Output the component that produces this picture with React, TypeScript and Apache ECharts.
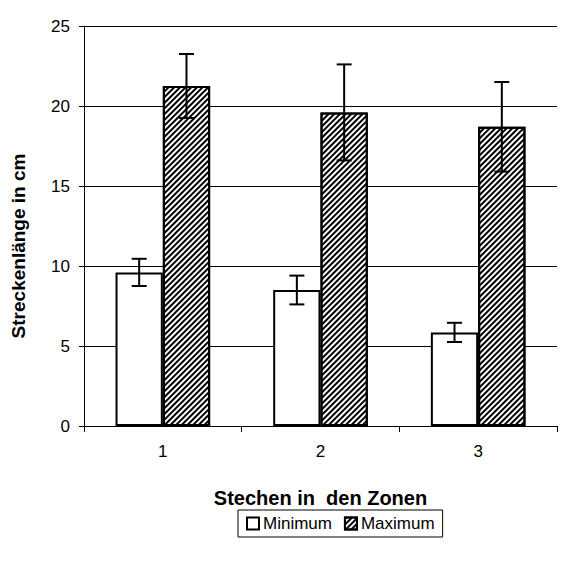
import React, { useEffect, useRef } from "react";
import * as echarts from "echarts";

const categories = ["1", "2", "3"];
const minimum = [9.6, 8.5, 5.85];
const maximum = [21.25, 19.6, 18.7];
const minimumError = [0.85, 0.9, 0.6];
const maximumError = [2.0, 3.0, 2.8];
const yTicks = { min: 0, max: 25, interval: 5 };
const xTitle = "Stechen in  den Zonen";
const yTitle = "Streckenlänge in cm";

const FONT = "'Liberation Sans', Arial, sans-serif";

function errorSeries(name: string, values: number[], errs: number[], offsetFrac: number) {
  return {
    type: "custom",
    name: name + " error",
    z: 10,
    silent: true,
    data: values.map((v, i) => [i, v - errs[i], v + errs[i]]),
    renderItem: (params: any, api: any) => {
      const idx = api.value(0);
      const lo = api.coord([idx, api.value(1)]);
      const hi = api.coord([idx, api.value(2)]);
      const bw = api.size([1, 0])[0];
      const x = lo[0] + bw * offsetFrac;
      const cap = 7.5;
      const style = { stroke: "#000", lineWidth: 2 };
      return {
        type: "group",
        children: [
          { type: "line", shape: { x1: x, y1: lo[1], x2: x, y2: hi[1] }, style },
          { type: "line", shape: { x1: x - cap, y1: lo[1], x2: x + cap, y2: lo[1] }, style },
          { type: "line", shape: { x1: x - cap, y1: hi[1], x2: x + cap, y2: hi[1] }, style },
        ],
      };
    },
  };
}

export default function App() {
  const ref = useRef<HTMLDivElement>(null);
  useEffect(() => {
    if (!ref.current) return;
    const chart = echarts.init(ref.current, undefined, { renderer: "svg" });
    const decal = {
      symbol: "rect",
      symbolSize: 1,
      color: "#000",
      dashArrayX: [1, 0],
      dashArrayY: [1.6, 1.4],
      rotation: -Math.PI / 4,
    };
    chart.setOption({
      animation: false,
      backgroundColor: "#fff",
      textStyle: { fontFamily: FONT },
      grid: { left: 84, right: 9, top: 26, bottom: 138, containLabel: false },
      graphic: [
        {
          type: "text",
          x: 18,
          y: 246,
          rotation: Math.PI / 2,
          style: {
            text: yTitle,
            fontFamily: FONT,
            fontSize: 19,
            fontWeight: "bold",
            fill: "#000",
            align: "center",
            verticalAlign: "middle",
          },
        },
      ],
      legend: {
        data: ["Minimum", "Maximum"],
        top: 510,
        left: 238,
        borderColor: "#000",
        borderWidth: 1,
        borderRadius: 0,
        padding: [5, 8, 5, 8],
        itemGap: 12,
        itemWidth: 12,
        itemHeight: 12,
        icon: "rect",
        textStyle: { fontFamily: FONT, fontSize: 17, color: "#000", padding: [0, 0, 0, -1] },
      },
      xAxis: {
        type: "category",
        data: categories,
        name: xTitle,
        nameLocation: "middle",
        nameGap: 62,
        nameTextStyle: { fontFamily: FONT, fontSize: 20, fontWeight: "bold", color: "#000" },
        axisLine: { lineStyle: { color: "#000", width: 1 } },
        axisTick: { show: true, alignWithLabel: false, length: 6, lineStyle: { color: "#000" } },
        axisLabel: { fontFamily: FONT, fontSize: 17, color: "#000", margin: 17 },
      },
      yAxis: {
        type: "value",
        min: yTicks.min,
        max: yTicks.max,
        interval: yTicks.interval,
        axisLine: { show: true, lineStyle: { color: "#000", width: 1 } },
        axisTick: { show: true, length: 5, lineStyle: { color: "#000" } },
        axisLabel: { fontFamily: FONT, fontSize: 17, color: "#000", margin: 14 },
        splitLine: { show: true, lineStyle: { color: "#000", width: 1 } },
      },
      series: [
        {
          type: "bar",
          name: "Minimum",
          data: minimum,
          barWidth: "30%",
          barGap: "0%",
          itemStyle: { color: "#fff", borderColor: "#000", borderWidth: 2 },
        },
        {
          type: "bar",
          name: "Maximum",
          data: maximum,
          barWidth: "30%",
          barGap: "0%",
          itemStyle: { color: "#fff", borderColor: "#000", borderWidth: 2, decal },
        },
        errorSeries("Minimum", minimum, minimumError, -0.15),
        errorSeries("Maximum", maximum, maximumError, 0.15),
      ],
    });
    return () => chart.dispose();
  }, []);
  return (
    <div
      ref={ref}
      style={{ position: "absolute", left: 0, top: 0, width: 566, height: 564 }}
    />
  );
}
